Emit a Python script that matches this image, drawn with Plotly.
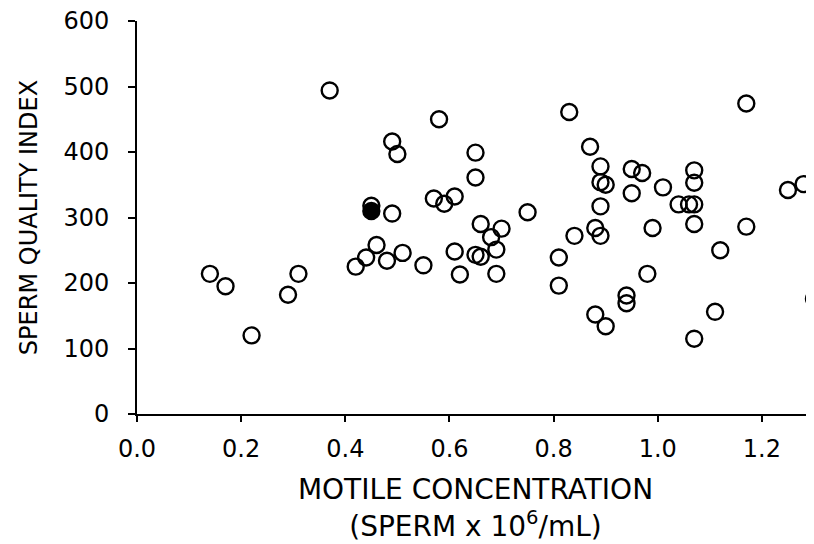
import plotly.graph_objects as go

# motile concentration (x 10^6 /mL) vs sperm quality index
motile_conc = [0.37, 0.14, 0.17, 0.22, 0.29, 0.31, 0.42, 0.44, 0.46, 0.48, 0.51, 0.55,
               0.58, 0.49, 0.50, 0.65, 0.65, 0.45, 0.45, 0.49, 0.57, 0.59, 0.61,
               0.75, 0.66, 0.70, 0.68, 0.69, 0.61, 0.65, 0.66, 0.62, 0.69, 0.83, 0.84,
               0.81, 0.81, 1.17, 0.87, 0.89, 0.95, 0.97, 1.07, 0.89, 0.90, 1.07, 1.01,
               0.95, 1.04, 1.06, 1.07, 0.89, 1.25, 1.28, 0.88, 0.89, 0.99, 1.07, 1.17,
               1.12, 0.98, 0.94, 0.94, 0.88, 0.90, 1.11, 1.07, 1.30]
sqi = [494, 214, 195, 120, 182, 214, 225, 239, 258, 234, 246, 227,
       450, 416, 397, 399, 361, 318, 310, 306, 329, 321, 332,
       308, 290, 283, 270, 251, 248, 243, 240, 213, 214, 461, 272,
       239, 196, 474, 408, 378, 374, 368, 372, 354, 350, 353, 346,
       337, 320, 320, 320, 317, 342, 351, 284, 272, 284, 290, 286,
       250, 214, 181, 169, 152, 134, 156, 115, 176]
# one point is drawn solid in the original
filled = [False] * len(sqi)
filled[18] = True

x_ticks = [0.0, 0.2, 0.4, 0.6, 0.8, 1.0, 1.2]
y_ticks = [0, 100, 200, 300, 400, 500, 600]

font = "DejaVu Sans, Liberation Sans, Arial, sans-serif"

fig = go.Figure(go.Scatter(
    x=motile_conc, y=sqi, mode="markers",
    marker=dict(symbol=["circle" if f else "circle-open" for f in filled],
                size=16, color="black", line=dict(width=2.4, color="black")),
    cliponaxis=False,
))

# page body has an 8px margin, so margins are shifted to compensate
fig.update_layout(
    width=814, height=544,
    margin=dict(l=129, r=8, t=13, b=138),
    paper_bgcolor="white", plot_bgcolor="white",
    font=dict(family=font, size=24, color="black"),
    showlegend=False,
)
fig.update_xaxes(
    range=[0, 1.3], tickvals=x_ticks, tickformat=".1f",
    showline=True, linecolor="black", linewidth=2, showgrid=False, zeroline=False,
    ticks="outside", ticklen=6, tickwidth=2, tickcolor="black",
    ticklabelstandoff=6, automargin=False,
    title=dict(text="MOTILE CONCENTRATION<br>(SPERM x 10<sup>6</sup>/mL)",
               font=dict(size=28), standoff=18),
)
fig.update_yaxes(
    range=[0, 600], tickvals=y_ticks,
    showline=True, linecolor="black", linewidth=2, showgrid=False, zeroline=False,
    ticks="outside", ticklen=7, tickwidth=2, tickcolor="black",
    ticklabelstandoff=14, ticklabeloverflow="allow", automargin=False,
    title=dict(text="SPERM QUALITY INDEX", font=dict(size=24), standoff=19),
)

fig.write_html("out.html")
